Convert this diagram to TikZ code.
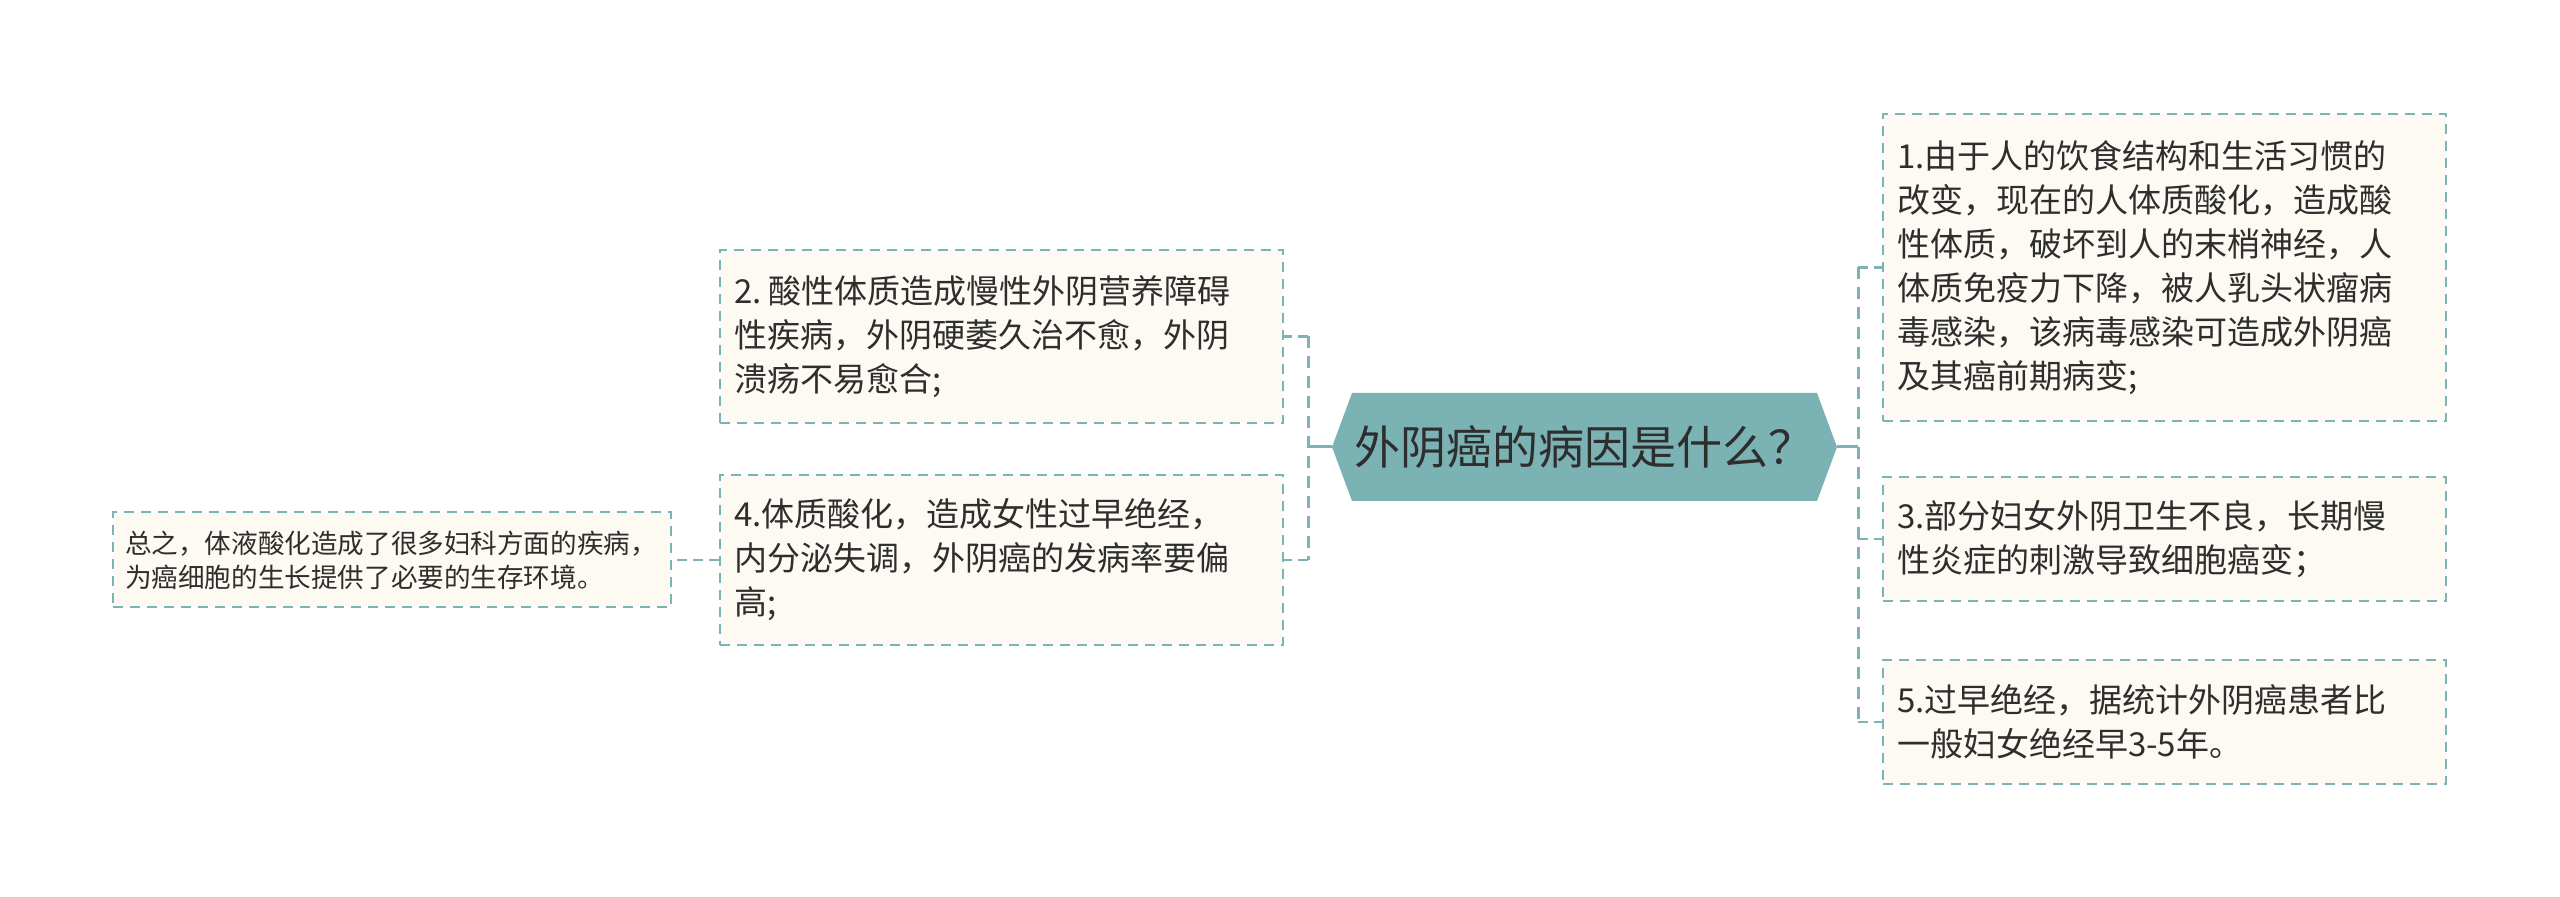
\documentclass[tikz,border=0pt]{standalone}
\usepackage{fontspec}
\setmainfont{Noto Sans CJK SC}
\definecolor{lineC}{HTML}{7DB3B5}
\definecolor{hexfill}{HTML}{7BB3B5}
\definecolor{boxfill}{HTML}{FCFAF2}
\definecolor{txt}{HTML}{2E2E2E}
\tikzset{
  box/.style={draw=lineC, fill=boxfill, line width=1pt, dash pattern=on 5pt off 3.5pt,
    rectangle, align=left, inner xsep=7pt, inner ysep=0pt, text=txt,
    font=\fontsize{16.5pt}{22pt}\selectfont},
  smallbox/.style={box, inner xsep=6pt, font=\fontsize{13.3pt}{17pt}\selectfont},
  bus/.style={draw=lineC, line width=1.5pt, dash pattern=on 6pt off 4pt},
  stub/.style={draw=lineC, line width=1.2pt, dash pattern=on 5pt off 3pt},
  trunk/.style={draw=lineC, line width=1.5pt},
}
\begin{document}
\begin{tikzpicture}[x=0.5pt,y=-0.5pt]
\useasboundingbox (0,0) rectangle (2560,897);
% central hexagon
\fill[hexfill] (1332,447) -- (1352,393) -- (1817,393) -- (1837,447) -- (1817,501) -- (1352,501) -- cycle;
\node[text=txt, font=\fontsize{23pt}{28pt}\selectfont, inner sep=0pt] (c) at (1584.5,447) {外阴癌的病因是什么？};
\coordinate (cl) at (1332,447);
\coordinate (cr) at (1837,447);
\coordinate (lb) at (1308,447);
\coordinate (rb) at (1858,447);

% right boxes
\node[box, minimum width=281.5pt, minimum height=153.5pt, text width=267.5pt] (b1) at (2164.5,267.5) {1.由于人的饮食结构和生活习惯的\\改变，现在的人体质酸化，造成酸\\性体质，破坏到人的末梢神经，人\\体质免疫力下降，被人乳头状瘤病\\毒感染，该病毒感染可造成外阴癌\\及其癌前期病变;};
\node[box, minimum width=281.5pt, minimum height=62pt, text width=267.5pt] (b3) at (2164.5,539) {3.部分妇女外阴卫生不良，长期慢\\性炎症的刺激导致细胞癌变；};
\node[box, minimum width=281.5pt, minimum height=62pt, text width=267.5pt] (b5) at (2164.5,722) {5.过早绝经，据统计外阴癌患者比\\一般妇女绝经早3-5年。};

% left boxes
\node[box, minimum width=281.5pt, minimum height=86.5pt, text width=267.5pt] (b2) at (1001.5,336.5) {2.\hspace{0.2em}酸性体质造成慢性外阴营养障碍\\性疾病，外阴硬萎久治不愈，外阴\\溃疡不易愈合;};
\node[box, minimum width=281.5pt, minimum height=85pt, text width=267.5pt] (b4) at (1001.5,560) {4.体质酸化，造成女性过早绝经，\\内分泌失调，外阴癌的发病率要偏\\高;};
\node[smallbox, minimum width=279pt, minimum height=47.5pt, text width=267pt] (s) at (392,560) {总之，体液酸化造成了很多妇科方面的疾病，\\为癌细胞的生长提供了必要的生存环境。};

% connectors right
\draw[trunk] (cr) -- (rb);
\draw[bus] (b1.west -| rb) -- (b5.west -| rb);
\draw[stub] (b1.west -| rb) -- (b1.west);
\draw[stub] (b3.west -| rb) -- (b3.west);
\draw[stub] (b5.west -| rb) -- (b5.west);

% connectors left
\draw[trunk] (cl) -- (lb);
\draw[bus] (b2.east -| lb) -- (b4.east -| lb);
\draw[stub] (b2.east -| lb) -- (b2.east);
\draw[stub] (b4.east -| lb) -- (b4.east);
\draw[stub] (b4.west) -- (s.east);
\end{tikzpicture}
\end{document}
